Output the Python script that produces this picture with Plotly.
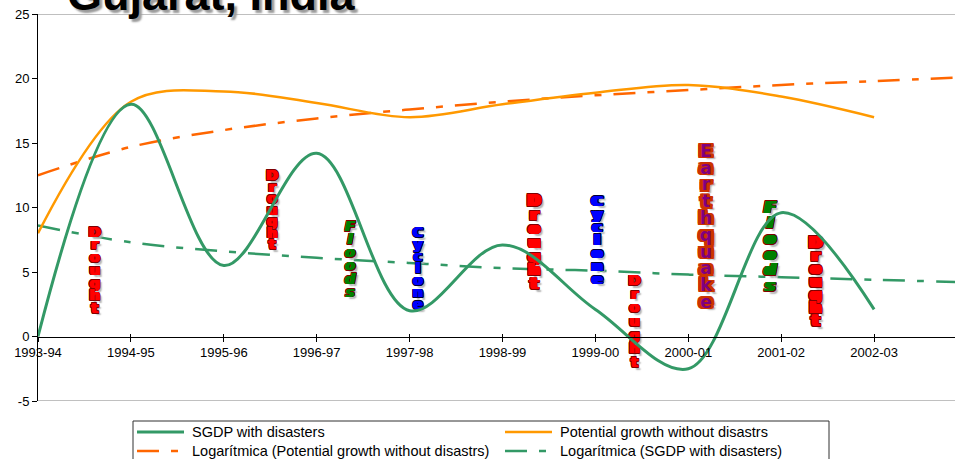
import plotly.graph_objects as go

# ---- data -------------------------------------------------------------
years = ["1993-94", "1994-95", "1995-96", "1996-97", "1997-98",
         "1998-99", "1999-00", "2000-01", "2001-02", "2002-03"]
sgdp_with_disasters = [0.0, 18.0, 5.5, 14.2, 2.0, 7.1, 2.1, -2.5, 9.6, 2.1]
potential_growth = [8.0, 18.2, 19.0, 18.1, 17.0, 18.0, 18.9, 19.5, 18.6, 17.0]
# logarithmic trend lines, one value per period plus one period ahead
log_potential = [12.5, 14.7, 16.0, 16.9, 17.6, 18.2, 18.7, 19.1, 19.5, 19.8, 20.1]
log_sgdp = [8.6, 7.3, 6.6, 6.1, 5.7, 5.3, 5.1, 4.8, 4.6, 4.4, 4.2]
events = ["Drought", "Drought", "Floods", "Cyclone", "Drought",
          "Cyclone", "Drought", "Earthquake", "Floods", "Drought"]
y_ticks = [-5, 0, 5, 10, 15, 20, 25]

series_names = ["SGDP with disasters",
                "Potential growth without disastrs",
                "Logarítmica (Potential growth without disastrs)",
                "Logarítmica (SGDP with disasters)"]

# ---- geometry ---------------------------------------------------------
W, H = 955, 459
ML, MR, MT, MB = 38, 0, 14, 58
PW, PH = W - ML - MR, H - MT - MB
CAT_PX = 92.9                      # pixels per period on the x axis
X_MAX = PW / CAT_PX
BASE_FONT = "Liberation Sans, Arial, sans-serif"
ART_FONT = "DejaVu Sans, Liberation Sans, sans-serif"

def fx(px):
    return (px - ML) / PW

def fy(py):
    return (H - MB - py) / PH

pos = list(range(len(years)))
pos_trend = list(range(len(log_sgdp)))

GREEN = "#339966"
ORANGE = "#FF9900"
ORANGE_DK = "#FF6600"
TREND_DASH = "22px,12px,7px,12px"

line_styles = [
    dict(color=GREEN, width=3),
    dict(color=ORANGE, width=2.5),
    dict(color=ORANGE_DK, width=2.5, dash=TREND_DASH),
    dict(color=GREEN, width=2.5, dash=TREND_DASH),
]

fig = go.Figure()

# trend lines first (drawn underneath)
fig.add_trace(go.Scatter(x=pos_trend, y=log_potential, mode="lines",
                         name=series_names[2], hoverinfo="skip",
                         line=dict(shape="spline", **line_styles[2])))
fig.add_trace(go.Scatter(x=pos_trend, y=log_sgdp, mode="lines",
                         name=series_names[3], hoverinfo="skip",
                         line=dict(shape="spline", **line_styles[3])))

# ---- word-art disaster labels ----------------------------------------
# fill: letter core, smear: colour used to widen it, edge: outline colour
word_styles = {
    "Drought": dict(fill="#FF0000", smear="#FF0000", edge="#800000", edge_w=0.6, italic=False),
    "Cyclone": dict(fill="#0000FF", smear="#0000FF", edge="#000033", edge_w=0.6, italic=False),
    "Floods": dict(fill="#008000", smear="#008000", edge="#800000", edge_w=0.6, italic=True),
    "Earthquake": dict(fill="#800080", smear="#CC3300", edge="#CC3300", edge_w=1.4, italic=False),
}
# label placement: x in periods, top/bottom letter centres in y units,
# letter size and extra horizontal width (px each side)
placements = [
    dict(x=0.61, top=8.0, bottom=2.1, size=14, widen=1),
    dict(x=2.52, top=12.4, bottom=7.05, size=14, widen=1),
    dict(x=3.36, top=8.45, bottom=3.35, size=14, widen=1),
    dict(x=4.09, top=7.95, bottom=2.4, size=14, widen=1),
    dict(x=5.34, top=10.4, bottom=3.95, size=15, widen=2),
    dict(x=6.02, top=10.4, bottom=4.35, size=14, widen=2),
    dict(x=6.42, top=4.25, bottom=-2.1, size=14, widen=1),
    dict(x=7.19, top=14.25, bottom=2.55, size=17, widen=2),
    dict(x=7.88, top=9.9, bottom=3.8, size=15, widen=2),
    dict(x=8.37, top=7.15, bottom=1.1, size=15, widen=2),
]


def wordart_shadow(smear, edge, edge_w, widen):
    parts = []
    # horizontal smear for squat, wide letters
    for d in range(1, widen + 1):
        parts += [f"{d}px 0 0 {smear}", f"-{d}px 0 0 {smear}"]
    # outline around the widened letter
    outer = widen + edge_w
    xs = sorted({-outer, -widen, 0, widen, outer})
    for dy in (-edge_w, 0, edge_w):
        for dx in xs:
            if dy == 0 and abs(dx) <= widen:
                continue
            parts.append(f"{dx:g}px {dy:g}px 0 {edge}")
    # soft grey drop shadow
    parts.append(f"{outer + 1.5:g}px 2.5px 1.5px #b0b0b0")
    return ", ".join(parts)


for word, pl in zip(events, placements):
    st = word_styles[word]
    letters = list(word)
    n = len(letters)
    step = (pl["top"] - pl["bottom"]) / (n - 1)
    ys = [pl["top"] - i * step for i in range(n)]
    fig.add_trace(go.Scatter(
        x=[pl["x"]] * n, y=ys, mode="text", text=letters,
        textposition="middle center", hoverinfo="skip", showlegend=False,
        textfont=dict(family=ART_FONT, size=pl["size"], color=st["fill"],
                      weight="bold",
                      style="italic" if st["italic"] else "normal",
                      shadow=wordart_shadow(st["smear"], st["edge"], st["edge_w"],
                                            pl["widen"])),
    ))

# main series on top
fig.add_trace(go.Scatter(x=pos, y=potential_growth, mode="lines",
                         name=series_names[1], hoverinfo="skip",
                         line=dict(shape="spline", **line_styles[1])))
fig.add_trace(go.Scatter(x=pos, y=sgdp_with_disasters, mode="lines",
                         name=series_names[0], hoverinfo="skip",
                         line=dict(shape="spline", **line_styles[0])))
# carrier for the second x axis (inner half of the crossing tick marks)
fig.add_trace(go.Scatter(x=pos, y=sgdp_with_disasters, mode="lines",
                         xaxis="x2", opacity=0, line=dict(width=0),
                         hoverinfo="skip", showlegend=False))

zero_pos = (0 - y_ticks[0]) / (y_ticks[-1] - y_ticks[0])
tick_font = dict(family=BASE_FONT, size=13, color="black")

fig.update_layout(
    width=W, height=H, autosize=False,
    margin=dict(l=ML, r=MR, t=MT, b=MB, pad=0),
    paper_bgcolor="white", plot_bgcolor="white",
    showlegend=False,
    font=dict(family=BASE_FONT, color="black"),
    xaxis=dict(range=[0, X_MAX], tickmode="array", tickvals=pos, ticktext=years,
               anchor="free", position=zero_pos, showline=True, linecolor="black",
               linewidth=1, ticks="outside", ticklen=4, tickcolor="black",
               showgrid=False, zeroline=False, tickfont=tick_font, fixedrange=True),
    xaxis2=dict(range=[0, X_MAX], overlaying="x", tickmode="array", tickvals=pos,
                anchor="free", position=zero_pos, showline=False, ticks="inside",
                ticklen=3, tickcolor="black", showticklabels=False,
                showgrid=False, zeroline=False, fixedrange=True),
    yaxis=dict(range=[y_ticks[0], y_ticks[-1]], tickmode="array", tickvals=y_ticks,
               ticktext=[str(v) for v in y_ticks], showline=True, linecolor="black",
               linewidth=1, ticks="outside", ticklen=5, tickcolor="black",
               showgrid=False, zeroline=False, tickfont=tick_font, fixedrange=True),
)

# plot-area border (top and bottom)
for yv in (y_ticks[-1], y_ticks[0]):
    fig.add_shape(type="line", xref="paper", yref="y", x0=0, x1=1, y0=yv, y1=yv,
                  line=dict(color="#808080", width=1), layer="below")

# title
fig.add_annotation(text="Gujarat, India", xref="paper", yref="paper",
                   x=fx(211), y=fy(22), xanchor="center", yanchor="bottom",
                   showarrow=False,
                   font=dict(family=BASE_FONT, size=45, color="black", weight="bold",
                             shadow="3px 3px 2px #9a9a9a"))

# legend box, drawn in two columns
fig.add_shape(type="rect", xref="paper", yref="paper",
              x0=fx(133), x1=fx(829), y0=fy(421), y1=fy(485),
              line=dict(color="#303030", width=1), fillcolor="white")
legend_cols = [(137, 184, 190), (505, 552, 558)]
legend_rows = [432, 451]
legend_order = [(0, 0, 0), (1, 1, 0), (2, 0, 1), (3, 1, 1)]
for idx, col, row in legend_order:
    x0, x1, xt = legend_cols[col]
    yy = fy(legend_rows[row])
    fig.add_shape(type="line", xref="paper", yref="paper",
                  x0=fx(x0), x1=fx(x1), y0=yy, y1=yy, line=line_styles[idx])
    fig.add_annotation(text=series_names[idx], xref="paper", yref="paper",
                       x=fx(xt), y=yy, xanchor="left", yanchor="middle",
                       showarrow=False,
                       font=dict(family=BASE_FONT, size=14.5, color="black"))

fig.write_html("out.html")
